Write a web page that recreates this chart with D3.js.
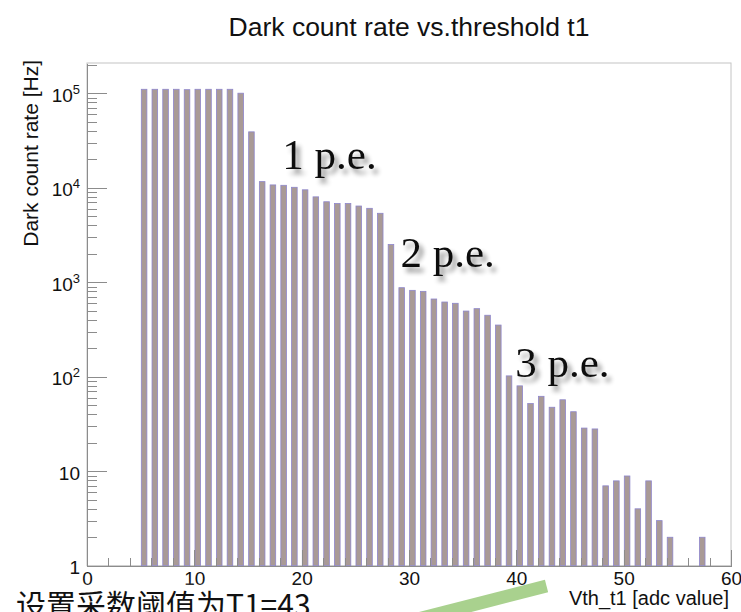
<!DOCTYPE html>
<html>
<head>
  <meta charset="utf8" />
  <style>
    body {
      margin: 0;
      background: #fff;
    }
    text {
      font-family: "Liberation Sans", Arial, Helvetica, sans-serif;
      fill: #111;
    }
    .axis path, .axis line {
      stroke: #8c8c8c;
      shape-rendering: crispEdges;
    }
    .bar {
      fill: #a99a96;
      stroke: #8e86cc;
      stroke-width: 0.8;
    }
    .pe {
      font-family: "Liberation Serif", "DejaVu Serif", serif;
      font-size: 43px;
    }
    .cn {
      font-family: "Noto Sans CJK SC", sans-serif;
      font-size: 30px;
    }
  </style>
</head>
<body>
  <script src="https://d3js.org/d3.v7.min.js"></script>

  <script>
    // threshold (adc value) and dark count rate
    var thresholds = d3.range(5, 58);
    var rates = [
      110000, 110000, 110000, 110000, 109000, 110000, 110000, 110000, 110000, 100000,
      39000, 11600, 10700, 10600, 10100, 9500, 8000, 7100, 6800, 6800,
      6400, 6050, 5360, 2500, 875, 820, 800, 664, 617, 598,
      495, 525, 447, 352, 102, 80, 52, 62, 47.5, 57,
      42.6, 28.6, 28, 7.0, 7.9, 8.9, 4.0, 7.9, 3.0, 2.0,
      0, 0, 2.0
    ];
    var xMajor = [0, 10, 20, 30, 40, 50, 60];
    var yMajor = [1, 10, 100, 1000, 10000, 100000];
    var peLabels = [
      { text: "1 p.e.", x: 18.2, y: 15800 },
      { text: "2 p.e.", x: 29.2, y: 1450 },
      { text: "3 p.e.", x: 39.9, y: 99 }
    ];

    var width = 741,
        height = 612,
        frameL = 87, frameR = 731, frameT = 63, frameB = 565.7;

    var svg = d3.select("body").append("svg")
        .attr("width", width)
        .attr("height", height);

    var defs = svg.append("defs");
    var shadow = defs.append("filter").attr("id", "shadow")
        .attr("x", "-20%").attr("y", "-20%").attr("width", "140%").attr("height", "160%");
    shadow.append("feGaussianBlur").attr("in", "SourceAlpha").attr("stdDeviation", 2.5).attr("result", "b");
    shadow.append("feOffset").attr("in", "b").attr("dx", 4).attr("dy", 5).attr("result", "o");
    shadow.append("feComponentTransfer").attr("in", "o").attr("result", "s")
      .append("feFuncA").attr("type", "linear").attr("slope", 0.45);
    var m = shadow.append("feMerge");
    m.append("feMergeNode").attr("in", "s");
    m.append("feMergeNode").attr("in", "SourceGraphic");

    var glow = defs.append("filter").attr("id", "glow")
        .attr("x", "-10%").attr("y", "-50%").attr("width", "120%").attr("height", "200%");
    glow.append("feGaussianBlur").attr("stdDeviation", 3);

    var x = d3.scaleLinear().domain([0, 60]).range([frameL, frameR]);
    var y = d3.scaleLog().domain([1, Math.pow(10, (frameB - frameT) / 94.5)]).range([frameB, frameT]);
    var bw = x(1) - x(0);

    // frame
    svg.append("rect")
        .attr("x", frameL).attr("y", frameT)
        .attr("width", frameR - frameL).attr("height", frameB - frameT)
        .attr("fill", "none").attr("stroke", "#c4c4c4");

    // bars
    var data = thresholds.map((t, i) => ({ t: t, v: rates[i] })).filter(d => d.v >= 1);
    svg.selectAll(".bar")
        .data(data)
      .enter().append("rect")
        .attr("class", "bar")
        .attr("x", d => x(d.t) + 0.06 * bw)
        .attr("width", 0.52 * bw)
        .attr("y", d => y(d.v))
        .attr("height", d => frameB - y(d.v));

    // x axis: majors every 10, minors every 2
    var xMinor = d3.range(0, 61, 2).filter(v => v % 10 !== 0);
    svg.append("g").attr("class", "axis")
        .attr("transform", "translate(0," + frameB + ")")
        .call(d3.axisBottom(x).tickValues(xMinor).tickSize(-8).tickSizeOuter(0).tickFormat(""));
    var gx = svg.append("g").attr("class", "axis")
        .attr("transform", "translate(0," + frameB + ")")
        .call(d3.axisBottom(x).tickValues(xMajor).tickSize(-16).tickSizeOuter(0).tickPadding(6).tickFormat(d3.format("d")));
    gx.selectAll("text").attr("font-size", 19).attr("fill", "#111").attr("font-family", null);

    // y axis: log, decades plus 2..9 minors
    var yMinor = [];
    yMajor.forEach(d => d3.range(2, 10).forEach(k => { if (d * k <= y.domain()[1]) yMinor.push(d * k); }));
    svg.append("g").attr("class", "axis")
        .attr("transform", "translate(" + frameL + ",0)")
        .call(d3.axisLeft(y).tickValues(yMinor).tickSize(-10).tickSizeOuter(0).tickFormat(""));
    var gy = svg.append("g").attr("class", "axis")
        .attr("transform", "translate(" + frameL + ",0)")
        .call(d3.axisLeft(y).tickValues(yMajor).tickSize(-20).tickSizeOuter(0).tickPadding(7).tickFormat(""));

    gy.selectAll(".tick").each(function(d) {
      var t = d3.select(this).select("text")
          .attr("font-size", 19).attr("fill", "#111").attr("font-family", null)
          .attr("dy", null).attr("y", 8);
      var e = Math.round(Math.log10(d));
      if (e <= 1) {
        t.text(d);
      } else {
        t.append("tspan").text("10");
        t.append("tspan").attr("font-size", 13).attr("dy", -8).text(e);
      }
    });

    // titles
    svg.append("text")
        .attr("x", (frameL + frameR) / 2).attr("y", 36)
        .attr("text-anchor", "middle").attr("font-size", 26.5)
        .text("Dark count rate vs.threshold t1");

    svg.append("text")
        .attr("transform", "translate(38,60) rotate(-90)")
        .attr("text-anchor", "end").attr("font-size", 21)
        .text("Dark count rate [Hz]");

    svg.append("text")
        .attr("x", frameR - 2).attr("y", 605)
        .attr("text-anchor", "end").attr("font-size", 20)
        .text("Vth_t1 [adc value]");

    // p.e. annotations
    svg.selectAll(".pe")
        .data(peLabels)
      .enter().append("text")
        .attr("class", "pe")
        .attr("filter", "url(#shadow)")
        .attr("x", d => x(d.x))
        .attr("y", d => y(d.y))
        .text(d => d.text);

    // green pointer to T1 = 43
    svg.append("line")
        .attr("x1", x(43) - 2).attr("y1", 586)
        .attr("x2", 375).attr("y2", 630)
        .attr("stroke", "#a9d18e").attr("stroke-width", 13);

    // note at the bottom, cut off by the page edge
    var note = "设置采数阈值为T1=43";
    svg.append("text").attr("class", "cn")
        .attr("x", 16).attr("y", 616)
        .attr("filter", "url(#glow)")
        .attr("stroke", "#fff").attr("stroke-width", 8).attr("fill", "#fff")
        .text(note);
    svg.append("text").attr("class", "cn")
        .attr("x", 16).attr("y", 616)
        .text(note);
  </script>
</body>
</html>
